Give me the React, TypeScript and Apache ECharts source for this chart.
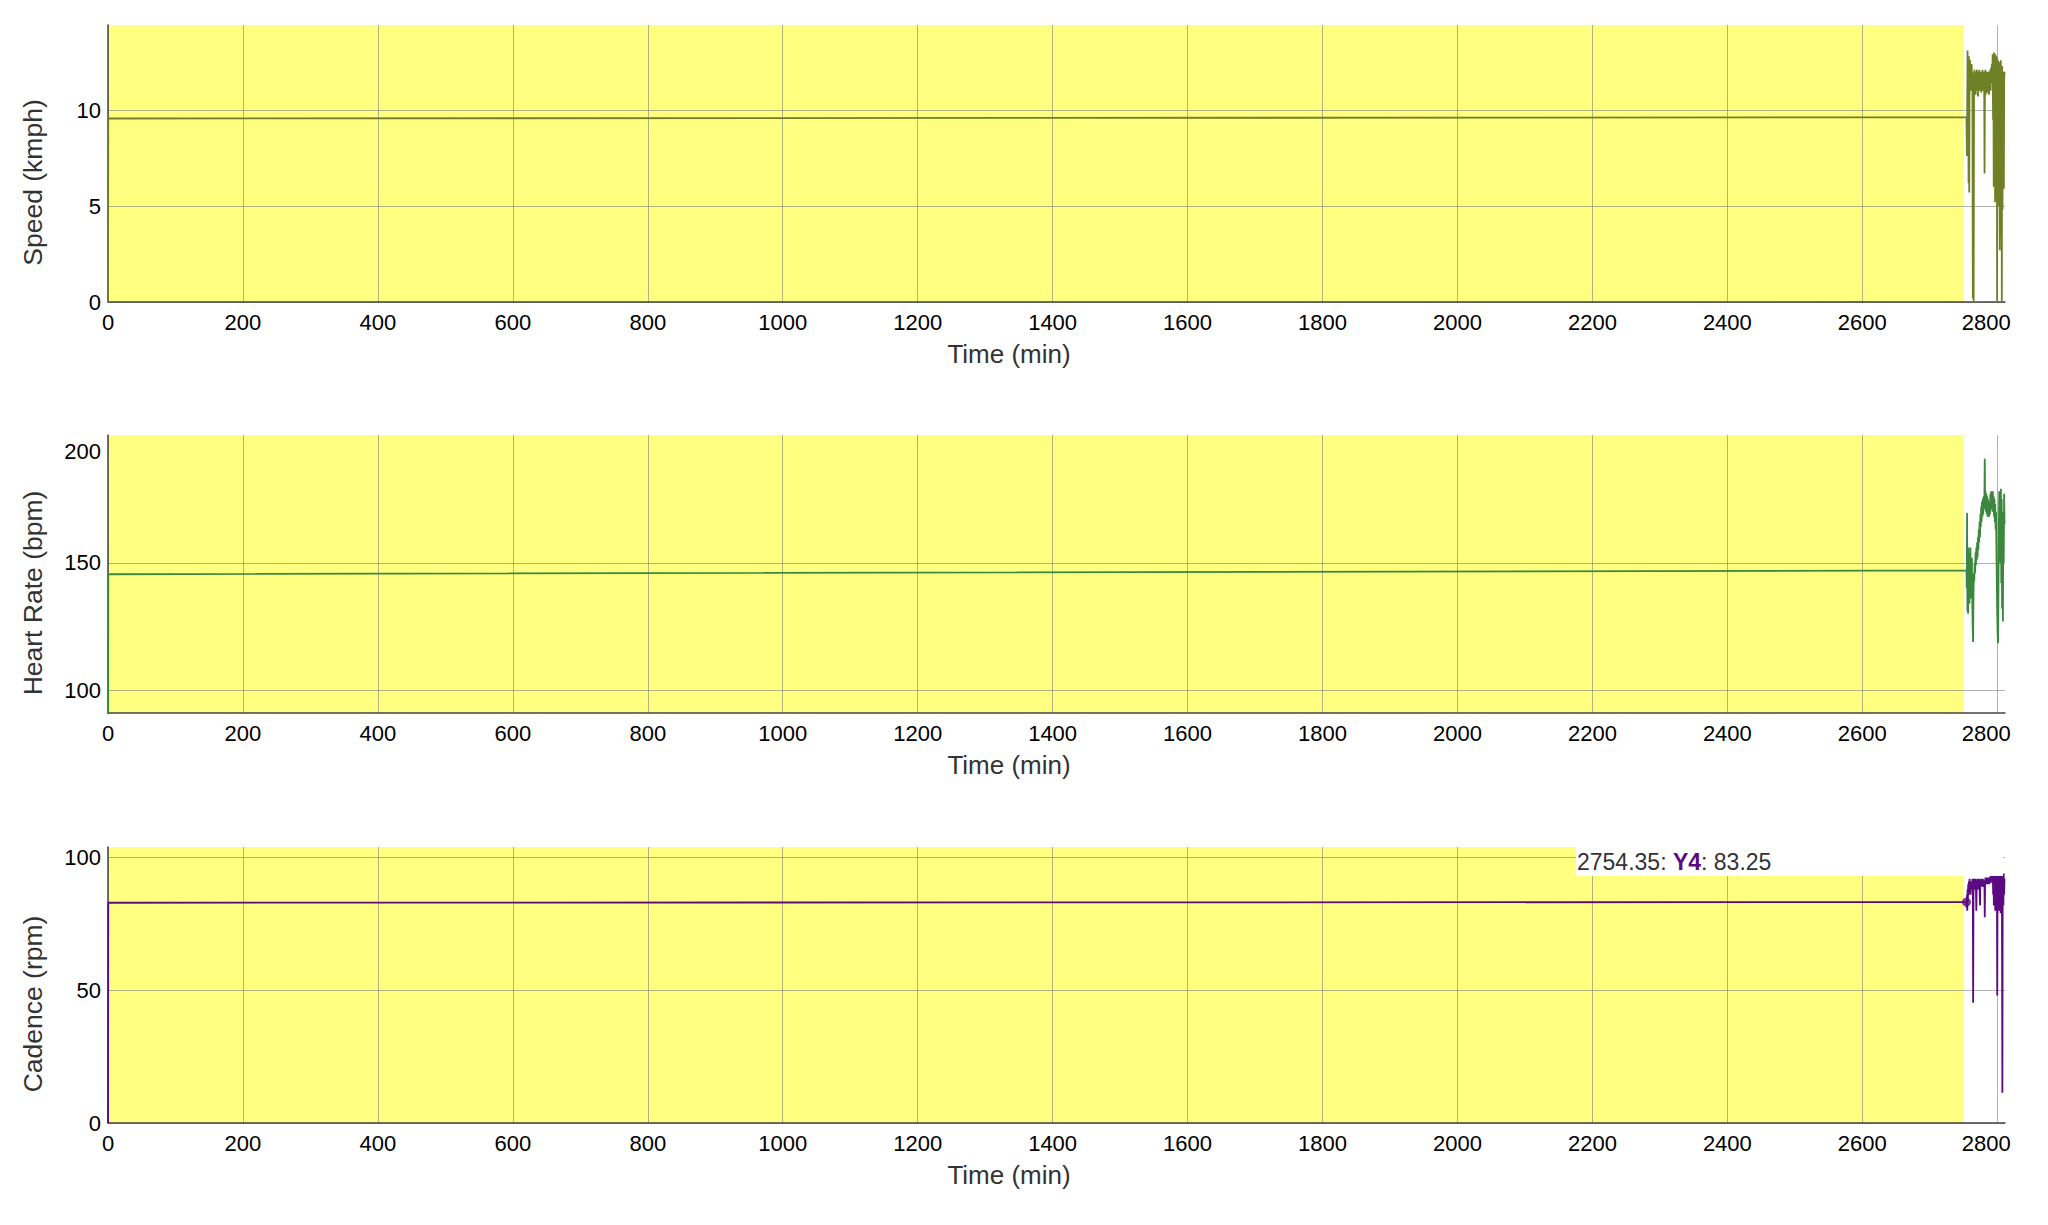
import React, { useEffect, useRef } from "react";
import * as echarts from "echarts";

// ---------- data ----------
const xTicks = [0, 200, 400, 600, 800, 1000, 1200, 1400, 1600, 1800, 2000, 2200, 2400, 2600, 2800];
const speedTicks = [0, 5, 10];
const hrTicks = [100, 150, 200];
const hrGridTicks = [100, 150];
const cadenceTicks = [0, 50, 100];

const xRange = [0, 2811.5];
const speedRange = [0, 14.43];
const hrRange = [91.2, 200];
const cadenceRange = [0, 104];

// highlighted (yellow) time span, in minutes
const highlightRange = [0, 2750.5];
// hovered point shown in the legend of the cadence panel
const cadenceHighlight = [2754.35, 83.25];

const speedData: number[][] = [
  [0, 0], [0.4, 9.56], [2754.35, 9.62], [2755.0, 7.6], [2755.5, 10.2], [2756.0, 13.1], [2756.5, 9.0],
  [2757.0, 12.4], [2757.5, 6.2], [2758.0, 12.8], [2758.5, 5.7], [2759.0, 11.9], [2759.6, 12.6],
  [2760.2, 11.3], [2760.8, 12.2], [2761.4, 11.0], [2762.0, 12.4], [2762.6, 11.6], [2763.2, 12.0],
  [2763.8, 0.2], [2764.4, 11.8], [2765.0, 0.0], [2765.6, 10.9], [2766.2, 12.1], [2766.8, 11.3],
  [2767.4, 12.0], [2768.0, 10.8], [2768.6, 11.9], [2769.2, 11.2], [2769.8, 12.1], [2770.4, 11.0],
  [2771.0, 11.8], [2771.6, 10.7], [2772.2, 12.0], [2772.8, 11.4], [2773.4, 12.1], [2774.0, 11.0],
  [2774.6, 11.9], [2775.2, 11.3], [2775.8, 12.0], [2776.4, 10.9], [2777.0, 11.8], [2777.6, 11.2],
  [2778.2, 12.1], [2778.8, 11.0], [2779.4, 11.8], [2780.0, 11.3], [2780.6, 12.0], [2781.2, 6.7],
  [2781.8, 11.7], [2782.4, 12.1], [2783.0, 10.8], [2783.6, 11.9], [2784.2, 11.1], [2784.8, 12.0],
  [2785.4, 10.9], [2786.0, 11.7], [2786.6, 11.2], [2787.2, 12.0], [2787.8, 10.8], [2788.4, 11.9],
  [2789.0, 11.3], [2789.6, 12.1], [2790.2, 11.0], [2790.8, 12.2], [2791.4, 11.4], [2792.0, 12.4],
  [2792.6, 11.6], [2793.2, 12.9], [2793.8, 9.5], [2794.3, 12.7], [2794.8, 6.0], [2795.3, 13.0],
  [2795.8, 7.5], [2796.3, 12.6], [2796.8, 5.2], [2797.3, 12.9], [2797.8, 8.4], [2798.3, 12.3],
  [2798.8, 5.5], [2799.3, 12.8], [2799.8, 0.0], [2800.3, 12.4], [2800.8, 6.1], [2801.3, 12.6],
  [2801.8, 5.0], [2802.3, 12.1], [2802.8, 7.2], [2803.3, 12.5], [2803.8, 2.7], [2804.3, 12.0],
  [2804.8, 3.4], [2805.3, 12.6], [2805.8, 5.3], [2806.3, 11.9], [2806.8, 0.0], [2807.3, 12.3],
  [2807.8, 4.8], [2808.3, 11.8], [2808.8, 6.5], [2809.3, 12.0], [2809.8, 5.9], [2810.3, 11.6],
  [2810.8, 12.0],
];

const heartRateData: number[][] = [
  [0, 0], [0.4, 145.5], [2754.35, 147.0], [2754.8, 140], [2755.3, 169.5], [2755.8, 131], [2756.3, 152],
  [2756.8, 130], [2757.3, 156], [2757.8, 135], [2758.3, 154], [2758.8, 134], [2759.3, 150],
  [2759.8, 138], [2760.3, 156], [2760.8, 136], [2761.3, 148], [2761.8, 140], [2762.4, 152],
  [2763.0, 135], [2763.6, 125], [2764.2, 119], [2764.8, 138], [2765.4, 146], [2766.0, 143],
  [2766.6, 150], [2767.2, 146], [2767.8, 154], [2768.4, 149], [2769.0, 156], [2769.6, 151],
  [2770.2, 158], [2770.8, 152], [2771.4, 160], [2772.0, 155], [2772.6, 163], [2773.2, 158],
  [2773.8, 166], [2774.4, 160], [2775.0, 169], [2775.6, 164], [2776.2, 172], [2776.8, 166],
  [2777.4, 174], [2778.0, 168], [2778.6, 175], [2779.2, 169], [2779.8, 176], [2780.4, 171],
  [2781.0, 175], [2781.5, 190.7], [2782.0, 173], [2782.6, 178], [2783.2, 170], [2783.8, 177],
  [2784.4, 169], [2785.0, 176], [2785.6, 168], [2786.2, 175], [2786.8, 170], [2787.4, 174],
  [2788.0, 168], [2788.6, 172], [2789.2, 169], [2789.8, 177], [2790.4, 171], [2791.0, 178],
  [2791.6, 172], [2792.2, 177], [2792.8, 170], [2793.4, 178], [2794.0, 171], [2794.6, 176],
  [2795.2, 168], [2795.8, 175], [2796.4, 166], [2797.0, 173], [2797.6, 163], [2798.2, 170],
  [2798.8, 155], [2799.4, 142], [2800.0, 130], [2800.6, 122], [2801.2, 118.5], [2801.8, 140],
  [2802.4, 165], [2803.0, 178], [2803.6, 160], [2804.2, 176], [2804.8, 150], [2805.4, 179],
  [2806.0, 142], [2806.6, 175], [2807.2, 132], [2807.8, 170], [2808.4, 127], [2809.0, 168],
  [2809.6, 150], [2810.2, 177], [2810.8, 165],
];

const cadenceData: number[][] = [
  [0, 0], [0.4, 83.0], [2754.35, 83.25], [2754.8, 81], [2755.2, 86], [2755.6, 80], [2756.0, 88],
  [2756.5, 84], [2757.0, 90], [2757.5, 86], [2758.0, 91], [2758.5, 87], [2759.0, 92], [2759.5, 88],
  [2760.0, 91], [2760.5, 86], [2761.0, 90], [2761.5, 88], [2762.0, 91], [2762.6, 89], [2763.2, 92],
  [2763.8, 88], [2764.3, 45.3], [2764.8, 89], [2765.4, 92], [2766.0, 89], [2766.6, 91], [2767.2, 88],
  [2767.8, 92], [2768.4, 89], [2769.0, 80], [2769.6, 91], [2770.2, 88], [2770.8, 92], [2771.4, 89],
  [2772.0, 91], [2772.6, 88], [2773.2, 92], [2773.8, 89], [2774.5, 82], [2775.0, 91], [2775.6, 89],
  [2776.2, 92], [2776.8, 90], [2777.4, 91.5], [2778.0, 89], [2778.6, 92], [2779.2, 90], [2779.8, 91],
  [2780.4, 89], [2781.0, 91.5], [2781.5, 77.5], [2782.0, 91], [2782.6, 92.5], [2783.2, 90],
  [2783.8, 92], [2784.4, 90.5], [2785.0, 92.5], [2785.6, 90], [2786.2, 92], [2786.8, 91],
  [2787.4, 92.5], [2788.0, 90], [2788.6, 92], [2789.2, 91], [2789.8, 93], [2790.4, 90.5],
  [2791.0, 92.5], [2791.6, 91], [2792.2, 93], [2792.8, 91], [2793.4, 93.5], [2794.0, 86],
  [2794.5, 94], [2795.0, 82], [2795.5, 93.5], [2796.0, 85], [2796.5, 94], [2797.0, 80],
  [2797.5, 93], [2798.0, 84], [2798.5, 94], [2799.0, 81], [2799.5, 93.5], [2800.0, 48],
  [2800.5, 92], [2801.0, 83], [2801.5, 94], [2802.0, 86], [2802.5, 93.5], [2803.0, 80],
  [2803.5, 94], [2804.0, 82], [2804.5, 93], [2805.0, 79], [2805.5, 94], [2806.0, 84],
  [2806.5, 93.5], [2807.0, 80], [2807.6, 11.4], [2808.1, 90], [2808.6, 93], [2809.1, 82],
  [2809.6, 94], [2810.1, 86], [2810.8, 92],
];

const panelTitles = ["Speed (kmph)", "Heart Rate (bpm)", "Cadence (rpm)"];
const xTitle = "Time (min)";
const seriesLegendName = "Y4";

// ---------- styles ----------
const FONT = "'Liberation Sans', Arial, Helvetica, sans-serif";
const YELLOW = "#ffff80";
const GRID_COLOR = "rgba(128,128,128,0.6)";
const AXIS_COLOR = "#444";
const SPEED_COLOR = "#6f8026";
const HR_COLOR = "#3a873d";
const CAD_COLOR = "#5c0a82";

const PLOT_LEFT = 108;
const PLOT_WIDTH = 1897;
const panels = [
  { top: 25, height: 277 },
  { top: 435, height: 278 },
  { top: 847, height: 276 },
];

export default function App() {
  const ref = useRef<HTMLDivElement>(null);

  useEffect(() => {
    if (!ref.current) return;
    const chart = echarts.init(ref.current, null, { renderer: "svg" });

    const yRanges = [speedRange, hrRange, cadenceRange];
    const yTicks = [speedTicks, hrTicks, cadenceTicks];
    const yGridTicks = [speedTicks, hrGridTicks, cadenceTicks];
    const datas = [speedData, heartRateData, cadenceData];
    const colors = [SPEED_COLOR, HR_COLOR, CAD_COLOR];

    const grids = panels.map((p) => ({
      left: PLOT_LEFT,
      top: p.top,
      width: PLOT_WIDTH,
      height: p.height,
      containLabel: false,
    }));

    const xAxes = panels.map((_, i) => ({
      type: "value",
      gridIndex: i,
      min: xRange[0],
      max: xRange[1],
      z: 1,
      axisLine: { show: true, onZero: false, lineStyle: { color: AXIS_COLOR, width: 1.5 } },
      axisTick: { show: false, customValues: xTicks },
      splitLine: { show: true, customValues: xTicks, lineStyle: { color: GRID_COLOR, width: 1 } },
      axisLabel: {
        customValues: xTicks,
        color: "#000",
        fontSize: 22,
        fontFamily: FONT,
        margin: 9,
        formatter: (v: number) => (v === xTicks[xTicks.length - 1] ? `{r|${v}}` : String(v)),
        rich: { r: { padding: [0, 22, 0, 0], fontSize: 22, color: "#000", fontFamily: FONT } },
      },
    }));

    const yAxes = panels.map((_, i) => ({
      type: "value",
      gridIndex: i,
      min: yRanges[i][0],
      max: yRanges[i][1],
      z: 1,
      axisLine: { show: true, onZero: false, lineStyle: { color: AXIS_COLOR, width: 1.5 } },
      axisTick: { show: false, customValues: yGridTicks[i] },
      splitLine: { show: true, customValues: yGridTicks[i], lineStyle: { color: GRID_COLOR, width: 1 } },
      axisLabel: {
        customValues: yTicks[i],
        color: "#000",
        fontSize: 22,
        fontFamily: FONT,
        margin: 7,
        formatter: (v: number) =>
          i === 1 && v === yRanges[i][1] ? `{t|${v}}` : String(v),
        rich: { t: { padding: [32, 0, 0, 0], fontSize: 22, color: "#000", fontFamily: FONT } },
      },
    }));

    const underlays = panels.map((_, i) => ({
      type: "custom",
      xAxisIndex: i,
      yAxisIndex: i,
      z: 0,
      silent: true,
      encode: { x: [0, 1] },
      data: [highlightRange],
      renderItem: (params: any, api: any) => {
        const a = api.coord([api.value(0), yRanges[i][1]]);
        const b = api.coord([api.value(1), yRanges[i][0]]);
        return {
          type: "rect",
          shape: { x: a[0], y: a[1], width: b[0] - a[0], height: b[1] - a[1] },
          style: { fill: YELLOW },
        };
      },
    }));

    const lines = panels.map((_, i) => ({
      type: "line",
      xAxisIndex: i,
      yAxisIndex: i,
      z: 2,
      data: datas[i],
      showSymbol: false,
      symbol: "none",
      clip: true,
      lineStyle: { color: colors[i], width: 1.8 },
      itemStyle: { color: colors[i] },
    }));

    const marker = {
      type: "scatter",
      xAxisIndex: 2,
      yAxisIndex: 2,
      z: 3,
      symbolSize: 9,
      data: [cadenceHighlight],
      itemStyle: { color: CAD_COLOR },
    };

    const titleGraphics: any[] = [];
    panels.forEach((p, i) => {
      titleGraphics.push({
        type: "text",
        x: 1009,
        y: p.top + p.height + 52,
        z: 50,
        style: {
          text: xTitle,
          font: `26px ${FONT}`,
          fill: "#333",
          textAlign: "center",
          textVerticalAlign: "middle",
        },
      });
      titleGraphics.push({
        type: "text",
        x: 33,
        y: p.top + p.height / 2 + 19,
        rotation: Math.PI / 2,
        z: 50,
        style: {
          text: panelTitles[i],
          font: `26.5px ${FONT}`,
          fill: "#333",
          textAlign: "center",
          textVerticalAlign: "middle",
        },
      });
    });

    const legendGraphic = {
      type: "group",
      z: 100,
      children: [
        {
          type: "rect",
          shape: { x: 1576, y: panels[2].top, width: 427, height: 29 },
          style: { fill: "#fff" },
          z: 100,
        },
        {
          type: "text",
          x: 1577,
          y: panels[2].top + 15,
          z: 101,
          style: {
            text: `${cadenceHighlight[0]}: {y|${seriesLegendName}}: ${cadenceHighlight[1]}`,
            font: `23px ${FONT}`,
            fill: "#333",
            textVerticalAlign: "middle",
            rich: {
              y: { fill: CAD_COLOR, fontWeight: "bold", fontSize: 23, fontFamily: FONT },
            },
          },
        },
      ],
    };

    chart.setOption({
      animation: false,
      backgroundColor: "#fff",
      grid: grids,
      xAxis: xAxes,
      yAxis: yAxes,
      series: [...underlays, ...lines, marker],
      graphic: [...titleGraphics, legendGraphic],
    });

    return () => chart.dispose();
  }, []);

  return (
    <div
      ref={ref}
      style={{ position: "absolute", left: 0, top: 0, width: 2048, height: 1225 }}
    />
  );
}
